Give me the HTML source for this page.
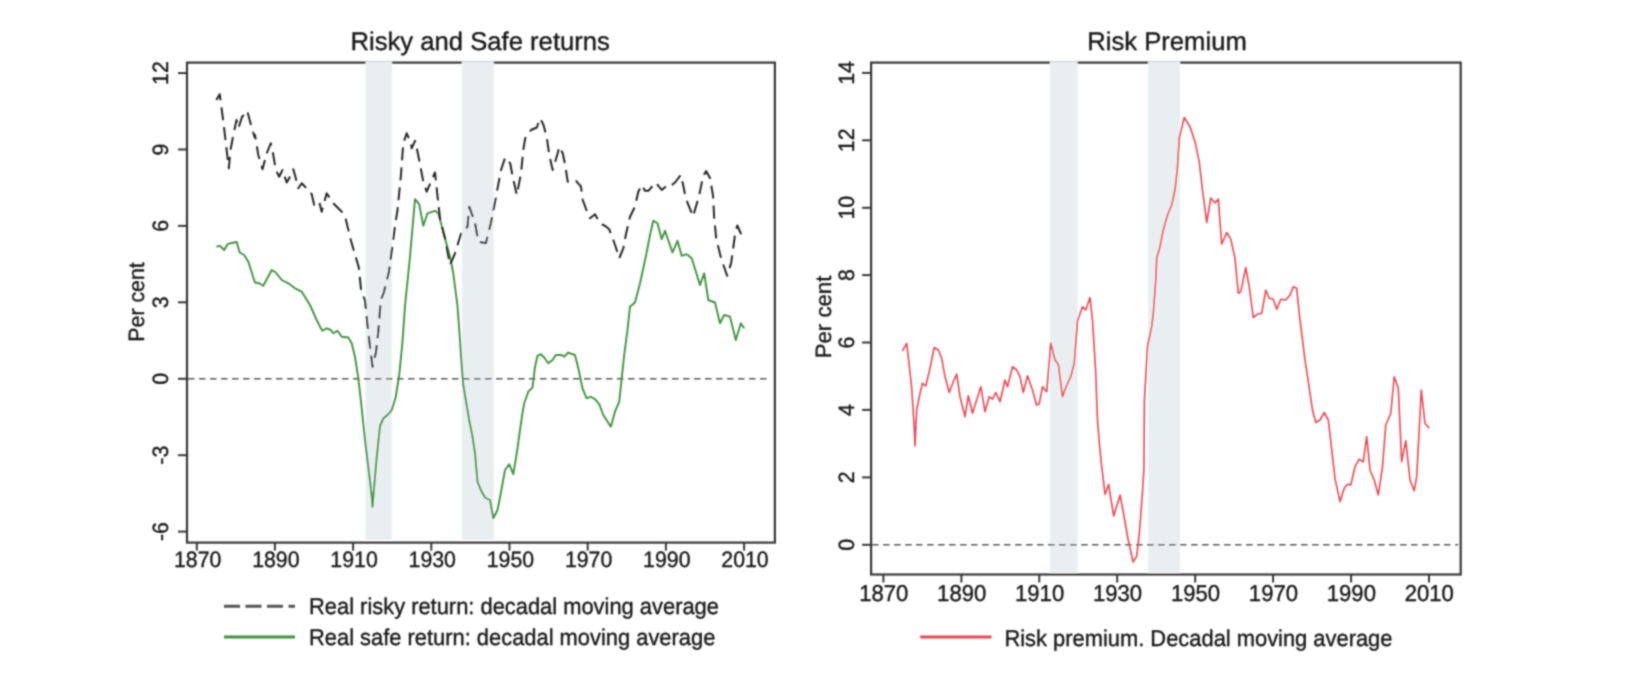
<!DOCTYPE html>
<html><head><meta charset="utf-8"><style>
html,body{margin:0;padding:0;background:#fff;width:1636px;height:696px;overflow:hidden}
svg{display:block}
</style></head><body>
<svg width="1636" height="696" viewBox="0 0 1636 696">
<defs><filter id="bl" x="0" y="0" width="1636" height="696" filterUnits="userSpaceOnUse"><feConvolveMatrix order="5" kernelMatrix="0.00009 0.00198 0.00548 0.00198 0.00009 0.00198 0.04220 0.11707 0.04220 0.00198 0.00548 0.11707 0.32480 0.11707 0.00548 0.00198 0.04220 0.11707 0.04220 0.00198 0.00009 0.00198 0.00548 0.00198 0.00009" edgeMode="none" preserveAlpha="false"/></filter></defs>
<rect width="1636" height="696" fill="#fff"/>
<g filter="url(#bl)">
<rect x="187.0" y="62.6" width="587.9" height="480.0" fill="none" stroke="#383838" stroke-width="2.2"/>
<rect x="871.1" y="62.6" width="589.6" height="511.9" fill="none" stroke="#383838" stroke-width="2.2"/>
<rect x="365.5" y="61.4" width="26.4" height="478.4" fill="#e9eff1"/>
<rect x="461.8" y="61.4" width="32.0" height="478.4" fill="#e9eff1"/>
<rect x="1050.0" y="61.4" width="27.6" height="511.2" fill="#e9eff1"/>
<rect x="1148.1" y="61.4" width="31.9" height="511.2" fill="#e9eff1"/>
<line x1="188.0" y1="378.75" x2="770.9" y2="378.75" stroke="#5a5a5a" stroke-width="1.4" stroke-dasharray="6.5 4.5"/>
<line x1="872.1" y1="544.75" x2="1458.2" y2="544.75" stroke="#5a5a5a" stroke-width="1.4" stroke-dasharray="6.5 4.5"/>
<line x1="178.0" y1="531.6" x2="187.0" y2="531.6" stroke="#383838" stroke-width="2"/>
<text x="0" y="0" transform="translate(168.40 531.57) rotate(-90) scale(0.9600 1)" text-anchor="middle" font-family="Liberation Sans, sans-serif" text-rendering="geometricPrecision" font-size="22.2" fill="#161616" stroke="#161616" stroke-width="0.35">-6</text>
<line x1="178.0" y1="455.2" x2="187.0" y2="455.2" stroke="#383838" stroke-width="2"/>
<text x="0" y="0" transform="translate(168.40 455.16) rotate(-90) scale(0.9600 1)" text-anchor="middle" font-family="Liberation Sans, sans-serif" text-rendering="geometricPrecision" font-size="22.2" fill="#161616" stroke="#161616" stroke-width="0.35">-3</text>
<line x1="178.0" y1="378.8" x2="187.0" y2="378.8" stroke="#383838" stroke-width="2"/>
<text x="0" y="0" transform="translate(168.40 378.75) rotate(-90) scale(0.9600 1)" text-anchor="middle" font-family="Liberation Sans, sans-serif" text-rendering="geometricPrecision" font-size="22.2" fill="#161616" stroke="#161616" stroke-width="0.35">0</text>
<line x1="178.0" y1="302.3" x2="187.0" y2="302.3" stroke="#383838" stroke-width="2"/>
<text x="0" y="0" transform="translate(168.40 302.34) rotate(-90) scale(0.9600 1)" text-anchor="middle" font-family="Liberation Sans, sans-serif" text-rendering="geometricPrecision" font-size="22.2" fill="#161616" stroke="#161616" stroke-width="0.35">3</text>
<line x1="178.0" y1="225.9" x2="187.0" y2="225.9" stroke="#383838" stroke-width="2"/>
<text x="0" y="0" transform="translate(168.40 225.93) rotate(-90) scale(0.9600 1)" text-anchor="middle" font-family="Liberation Sans, sans-serif" text-rendering="geometricPrecision" font-size="22.2" fill="#161616" stroke="#161616" stroke-width="0.35">6</text>
<line x1="178.0" y1="149.5" x2="187.0" y2="149.5" stroke="#383838" stroke-width="2"/>
<text x="0" y="0" transform="translate(168.40 149.52) rotate(-90) scale(0.9600 1)" text-anchor="middle" font-family="Liberation Sans, sans-serif" text-rendering="geometricPrecision" font-size="22.2" fill="#161616" stroke="#161616" stroke-width="0.35">9</text>
<line x1="178.0" y1="73.1" x2="187.0" y2="73.1" stroke="#383838" stroke-width="2"/>
<text x="0" y="0" transform="translate(168.40 73.11) rotate(-90) scale(0.9600 1)" text-anchor="middle" font-family="Liberation Sans, sans-serif" text-rendering="geometricPrecision" font-size="22.2" fill="#161616" stroke="#161616" stroke-width="0.35">12</text>
<line x1="862.1" y1="544.8" x2="871.1" y2="544.8" stroke="#383838" stroke-width="2"/>
<text x="0" y="0" transform="translate(853.70 544.75) rotate(-90) scale(0.9600 1)" text-anchor="middle" font-family="Liberation Sans, sans-serif" text-rendering="geometricPrecision" font-size="22.2" fill="#161616" stroke="#161616" stroke-width="0.35">0</text>
<line x1="862.1" y1="477.4" x2="871.1" y2="477.4" stroke="#383838" stroke-width="2"/>
<text x="0" y="0" transform="translate(853.70 477.35) rotate(-90) scale(0.9600 1)" text-anchor="middle" font-family="Liberation Sans, sans-serif" text-rendering="geometricPrecision" font-size="22.2" fill="#161616" stroke="#161616" stroke-width="0.35">2</text>
<line x1="862.1" y1="409.9" x2="871.1" y2="409.9" stroke="#383838" stroke-width="2"/>
<text x="0" y="0" transform="translate(853.70 409.95) rotate(-90) scale(0.9600 1)" text-anchor="middle" font-family="Liberation Sans, sans-serif" text-rendering="geometricPrecision" font-size="22.2" fill="#161616" stroke="#161616" stroke-width="0.35">4</text>
<line x1="862.1" y1="342.5" x2="871.1" y2="342.5" stroke="#383838" stroke-width="2"/>
<text x="0" y="0" transform="translate(853.70 342.55) rotate(-90) scale(0.9600 1)" text-anchor="middle" font-family="Liberation Sans, sans-serif" text-rendering="geometricPrecision" font-size="22.2" fill="#161616" stroke="#161616" stroke-width="0.35">6</text>
<line x1="862.1" y1="275.1" x2="871.1" y2="275.1" stroke="#383838" stroke-width="2"/>
<text x="0" y="0" transform="translate(853.70 275.15) rotate(-90) scale(0.9600 1)" text-anchor="middle" font-family="Liberation Sans, sans-serif" text-rendering="geometricPrecision" font-size="22.2" fill="#161616" stroke="#161616" stroke-width="0.35">8</text>
<line x1="862.1" y1="207.8" x2="871.1" y2="207.8" stroke="#383838" stroke-width="2"/>
<text x="0" y="0" transform="translate(853.70 207.75) rotate(-90) scale(0.9600 1)" text-anchor="middle" font-family="Liberation Sans, sans-serif" text-rendering="geometricPrecision" font-size="22.2" fill="#161616" stroke="#161616" stroke-width="0.35">10</text>
<line x1="862.1" y1="140.3" x2="871.1" y2="140.3" stroke="#383838" stroke-width="2"/>
<text x="0" y="0" transform="translate(853.70 140.35) rotate(-90) scale(0.9600 1)" text-anchor="middle" font-family="Liberation Sans, sans-serif" text-rendering="geometricPrecision" font-size="22.2" fill="#161616" stroke="#161616" stroke-width="0.35">12</text>
<line x1="862.1" y1="72.9" x2="871.1" y2="72.9" stroke="#383838" stroke-width="2"/>
<text x="0" y="0" transform="translate(853.70 72.95) rotate(-90) scale(0.9600 1)" text-anchor="middle" font-family="Liberation Sans, sans-serif" text-rendering="geometricPrecision" font-size="22.2" fill="#161616" stroke="#161616" stroke-width="0.35">14</text>
<line x1="196.8" y1="542.6" x2="196.8" y2="550.6" stroke="#383838" stroke-width="2"/>
<text x="0" y="0" transform="translate(197.66 567.10) scale(0.9600 1)" text-anchor="middle" font-family="Liberation Sans, sans-serif" text-rendering="geometricPrecision" font-size="22.2" fill="#161616" stroke="#161616" stroke-width="0.35">1870</text>
<line x1="274.9" y1="542.6" x2="274.9" y2="550.6" stroke="#383838" stroke-width="2"/>
<text x="0" y="0" transform="translate(275.85 567.10) scale(0.9600 1)" text-anchor="middle" font-family="Liberation Sans, sans-serif" text-rendering="geometricPrecision" font-size="22.2" fill="#161616" stroke="#161616" stroke-width="0.35">1890</text>
<line x1="353.1" y1="542.6" x2="353.1" y2="550.6" stroke="#383838" stroke-width="2"/>
<text x="0" y="0" transform="translate(354.04 567.10) scale(0.9600 1)" text-anchor="middle" font-family="Liberation Sans, sans-serif" text-rendering="geometricPrecision" font-size="22.2" fill="#161616" stroke="#161616" stroke-width="0.35">1910</text>
<line x1="431.3" y1="542.6" x2="431.3" y2="550.6" stroke="#383838" stroke-width="2"/>
<text x="0" y="0" transform="translate(432.22 567.10) scale(0.9600 1)" text-anchor="middle" font-family="Liberation Sans, sans-serif" text-rendering="geometricPrecision" font-size="22.2" fill="#161616" stroke="#161616" stroke-width="0.35">1930</text>
<line x1="509.5" y1="542.6" x2="509.5" y2="550.6" stroke="#383838" stroke-width="2"/>
<text x="0" y="0" transform="translate(510.41 567.10) scale(0.9600 1)" text-anchor="middle" font-family="Liberation Sans, sans-serif" text-rendering="geometricPrecision" font-size="22.2" fill="#161616" stroke="#161616" stroke-width="0.35">1950</text>
<line x1="587.7" y1="542.6" x2="587.7" y2="550.6" stroke="#383838" stroke-width="2"/>
<text x="0" y="0" transform="translate(588.60 567.10) scale(0.9600 1)" text-anchor="middle" font-family="Liberation Sans, sans-serif" text-rendering="geometricPrecision" font-size="22.2" fill="#161616" stroke="#161616" stroke-width="0.35">1970</text>
<line x1="665.9" y1="542.6" x2="665.9" y2="550.6" stroke="#383838" stroke-width="2"/>
<text x="0" y="0" transform="translate(666.79 567.10) scale(0.9600 1)" text-anchor="middle" font-family="Liberation Sans, sans-serif" text-rendering="geometricPrecision" font-size="22.2" fill="#161616" stroke="#161616" stroke-width="0.35">1990</text>
<line x1="744.1" y1="542.6" x2="744.1" y2="550.6" stroke="#383838" stroke-width="2"/>
<text x="0" y="0" transform="translate(744.98 567.10) scale(0.9600 1)" text-anchor="middle" font-family="Liberation Sans, sans-serif" text-rendering="geometricPrecision" font-size="22.2" fill="#161616" stroke="#161616" stroke-width="0.35">2010</text>
<line x1="883.4" y1="574.5" x2="883.4" y2="582.5" stroke="#383838" stroke-width="2"/>
<text x="0" y="0" transform="translate(883.73 601.00) scale(0.9650 1)" text-anchor="middle" font-family="Liberation Sans, sans-serif" text-rendering="geometricPrecision" font-size="22.9" fill="#161616" stroke="#161616" stroke-width="0.35">1870</text>
<line x1="961.4" y1="574.5" x2="961.4" y2="582.5" stroke="#383838" stroke-width="2"/>
<text x="0" y="0" transform="translate(961.67 601.00) scale(0.9650 1)" text-anchor="middle" font-family="Liberation Sans, sans-serif" text-rendering="geometricPrecision" font-size="22.9" fill="#161616" stroke="#161616" stroke-width="0.35">1890</text>
<line x1="1039.3" y1="574.5" x2="1039.3" y2="582.5" stroke="#383838" stroke-width="2"/>
<text x="0" y="0" transform="translate(1039.61 601.00) scale(0.9650 1)" text-anchor="middle" font-family="Liberation Sans, sans-serif" text-rendering="geometricPrecision" font-size="22.9" fill="#161616" stroke="#161616" stroke-width="0.35">1910</text>
<line x1="1117.2" y1="574.5" x2="1117.2" y2="582.5" stroke="#383838" stroke-width="2"/>
<text x="0" y="0" transform="translate(1117.55 601.00) scale(0.9650 1)" text-anchor="middle" font-family="Liberation Sans, sans-serif" text-rendering="geometricPrecision" font-size="22.9" fill="#161616" stroke="#161616" stroke-width="0.35">1930</text>
<line x1="1195.2" y1="574.5" x2="1195.2" y2="582.5" stroke="#383838" stroke-width="2"/>
<text x="0" y="0" transform="translate(1195.49 601.00) scale(0.9650 1)" text-anchor="middle" font-family="Liberation Sans, sans-serif" text-rendering="geometricPrecision" font-size="22.9" fill="#161616" stroke="#161616" stroke-width="0.35">1950</text>
<line x1="1273.1" y1="574.5" x2="1273.1" y2="582.5" stroke="#383838" stroke-width="2"/>
<text x="0" y="0" transform="translate(1273.43 601.00) scale(0.9650 1)" text-anchor="middle" font-family="Liberation Sans, sans-serif" text-rendering="geometricPrecision" font-size="22.9" fill="#161616" stroke="#161616" stroke-width="0.35">1970</text>
<line x1="1351.1" y1="574.5" x2="1351.1" y2="582.5" stroke="#383838" stroke-width="2"/>
<text x="0" y="0" transform="translate(1351.37 601.00) scale(0.9650 1)" text-anchor="middle" font-family="Liberation Sans, sans-serif" text-rendering="geometricPrecision" font-size="22.9" fill="#161616" stroke="#161616" stroke-width="0.35">1990</text>
<line x1="1429.0" y1="574.5" x2="1429.0" y2="582.5" stroke="#383838" stroke-width="2"/>
<text x="0" y="0" transform="translate(1429.31 601.00) scale(0.9650 1)" text-anchor="middle" font-family="Liberation Sans, sans-serif" text-rendering="geometricPrecision" font-size="22.9" fill="#161616" stroke="#161616" stroke-width="0.35">2010</text>
<text x="0" y="0" transform="translate(143.70 302.00) rotate(-90) scale(0.9600 1)" text-anchor="middle" font-family="Liberation Sans, sans-serif" text-rendering="geometricPrecision" font-size="22.2" fill="#161616" stroke="#161616" stroke-width="0.35">Per cent</text>
<text x="0" y="0" transform="translate(830.60 317.00) rotate(-90)" text-anchor="middle" font-family="Liberation Sans, sans-serif" text-rendering="geometricPrecision" font-size="22.2" fill="#161616" stroke="#161616" stroke-width="0.35">Per cent</text>
<text x="0" y="0" transform="translate(480.20 49.50)" text-anchor="middle" font-family="Liberation Sans, sans-serif" text-rendering="geometricPrecision" font-size="25.65" fill="#161616" stroke="#161616" stroke-width="0.35">Risky and Safe returns</text>
<text x="0" y="0" transform="translate(1167.00 49.50)" text-anchor="middle" font-family="Liberation Sans, sans-serif" text-rendering="geometricPrecision" font-size="25.65" fill="#161616" stroke="#161616" stroke-width="0.35">Risk Premium</text>
<polyline points="216.3,246.7 220.0,245.8 224.2,250.0 227.5,244.2 231.7,243.0 236.7,242.0 239.7,252.5 244.2,255.0 248.3,261.7 255.0,282.5 259.2,283.3 263.3,285.8 271.7,270.0 275.8,272.5 281.7,280.0 288.3,283.3 295.0,288.3 301.7,291.7 310.0,305.0 316.7,320.0 320.0,326.7 322.5,330.8 326.7,328.3 330.8,330.0 333.3,333.3 337.5,330.8 341.7,336.7 348.3,337.5 351.7,343.3 355.0,356.7 358.3,378.3 360.8,400.0 362.5,416.0 365.0,439.3 369.2,474.3 371.7,496.0 372.5,506.8 374.2,486.0 376.7,457.7 380.0,426.0 383.3,418.5 388.0,414.5 391.7,410.0 395.8,396.7 399.2,375.0 402.5,341.7 405.0,306.0 410.0,256.7 415.0,199.2 419.2,204.2 423.3,225.8 427.5,213.3 435.0,210.8 438.3,213.3 445.0,238.3 450.0,256.7 453.3,273.3 457.5,306.0 460.0,340.0 461.7,365.0 463.3,385.0 467.5,410.0 469.2,420.0 472.5,436.7 475.0,453.3 477.5,481.7 480.8,490.0 485.0,497.5 490.0,500.0 493.3,518.3 497.5,510.0 500.8,493.3 505.0,470.0 509.2,464.2 513.3,474.2 517.5,448.3 520.0,430.0 522.5,413.0 524.2,403.3 528.3,391.7 532.5,387.5 535.0,366.7 537.5,355.8 540.8,354.2 544.2,357.5 548.3,363.3 552.5,360.0 555.8,355.0 561.7,355.0 564.2,356.7 568.3,352.5 570.0,353.3 575.0,355.0 578.3,368.3 582.5,388.3 586.7,398.3 590.8,396.7 595.0,399.2 599.2,404.2 603.3,415.0 610.8,426.7 615.0,411.7 619.2,401.7 621.7,378.3 624.2,355.0 627.5,330.0 630.0,306.7 635.0,302.5 640.0,283.3 645.8,256.7 650.0,235.0 653.3,220.8 657.5,223.3 661.7,239.2 665.0,230.8 672.5,252.5 677.5,240.8 681.7,255.8 686.7,254.2 691.7,258.3 700.0,285.0 704.2,273.3 708.3,300.0 715.0,302.5 720.0,323.3 724.2,315.0 730.0,316.7 735.8,340.0 740.8,323.3 744.2,328.3" fill="none" stroke="#3f933f" stroke-width="1.9" stroke-linejoin="round"/>
<polyline points="216.3,100.0 219.7,94.2 223.0,119.0 225.5,140.0 228.8,168.3 230.5,150.0 233.0,136.7 236.5,120.0 238.5,128.0 242.0,117.0 247.2,110.8 251.0,125.0 254.7,137.5 255.0,135.0 258.3,155.0 262.5,169.2 266.7,153.3 270.8,143.3 273.3,155.0 275.8,170.0 279.2,176.7 282.5,170.0 286.7,182.5 289.2,178.3 293.3,169.2 295.8,178.3 298.3,188.3 301.7,183.3 308.3,190.0 311.7,194.2 314.2,205.0 319.2,201.7 321.7,211.7 326.7,193.3 333.3,203.3 338.3,208.3 341.7,211.7 345.8,219.2 350.8,240.0 358.8,267.5 361.2,291.2 365.0,300.0 367.5,325.0 370.0,346.7 372.5,366.7 375.8,353.3 378.3,331.7 380.8,300.0 383.8,292.5 388.8,272.5 395.0,226.0 397.5,210.0 400.8,176.7 403.3,143.3 406.7,133.3 410.8,142.5 411.7,148.3 415.0,140.8 417.5,151.7 419.2,160.0 423.3,181.7 426.7,191.7 431.7,180.0 435.0,172.5 438.3,203.3 440.0,218.3 445.0,238.3 450.0,265.0 455.0,253.3 461.7,231.7 465.0,230.0 467.5,226.7 469.2,206.7 475.0,222.5 478.3,241.7 485.8,243.3 490.8,223.3 496.0,196.7 501.0,170.0 505.2,157.5 510.2,163.3 512.7,176.7 516.8,195.0 521.0,173.3 523.5,148.3 525.2,138.3 531.0,130.0 536.8,127.5 540.2,118.3 543.5,125.0 546.8,137.5 549.3,155.0 552.7,170.0 557.7,153.3 559.3,146.7 562.7,153.3 565.2,165.0 567.7,181.7 576.0,180.8 581.0,186.7 582.7,200.0 586.8,210.8 590.0,218.3 595.0,214.2 600.0,223.3 605.0,225.8 609.2,229.2 613.3,240.0 616.7,250.0 619.2,258.3 623.3,248.3 625.8,235.0 630.0,216.7 635.0,206.7 638.3,191.7 641.7,185.0 645.0,190.8 648.3,190.8 655.8,182.5 661.7,190.0 666.7,185.8 670.0,186.7 675.0,182.5 680.8,175.0 683.3,185.8 685.8,198.3 693.0,216.4 699.0,196.3 703.1,176.2 706.1,171.1 710.1,178.2 713.1,196.3 714.1,216.4 716.2,238.5 721.2,258.7 727.2,275.8 731.2,262.7 735.3,232.5 737.3,225.5 741.3,234.5" fill="none" stroke="#282828" stroke-width="2.0" stroke-dasharray="13 7" stroke-linejoin="round"/>
<polyline points="902.5,350.8 906.7,343.3 909.2,365.0 911.7,388.3 914.2,426.7 915.0,446.0 916.7,410.0 920.0,393.3 922.5,383.3 925.8,385.8 930.0,368.3 934.2,347.5 938.3,350.0 941.7,358.3 945.0,376.7 949.2,392.5 953.3,381.7 956.7,374.2 960.0,396.7 965.0,416.7 968.3,395.8 972.5,413.3 980.8,386.7 985.0,411.7 989.2,396.7 992.5,399.2 995.8,392.5 1000.0,401.7 1005.0,380.0 1007.5,386.7 1012.5,366.7 1016.7,370.0 1020.0,376.7 1023.3,392.5 1027.5,375.8 1032.5,390.0 1036.5,405.0 1039.2,404.0 1042.5,386.7 1046.7,391.7 1050.8,343.3 1055.0,360.0 1058.3,364.2 1062.5,396.7 1066.7,385.0 1070.8,376.7 1074.2,363.3 1077.5,320.8 1082.5,306.7 1085.8,310.0 1090.0,297.5 1092.5,320.0 1095.8,373.3 1096.7,400.0 1097.5,420.0 1099.2,441.7 1101.7,466.7 1105.1,494.4 1108.6,484.4 1113.7,516.0 1120.1,495.1 1123.7,514.5 1128.0,539.0 1133.1,562.0 1136.7,556.2 1139.5,531.8 1142.4,493.0 1143.9,470.0 1144.4,400.0 1147.5,346.7 1151.7,326.7 1153.3,313.3 1155.8,280.0 1156.7,258.3 1160.0,246.7 1163.3,230.0 1167.5,215.0 1171.7,205.0 1175.0,190.0 1177.5,166.7 1179.2,138.3 1184.2,117.5 1190.0,126.7 1195.0,141.7 1199.2,161.7 1202.5,190.0 1206.7,222.5 1210.8,198.0 1215.0,203.0 1218.3,199.0 1221.7,244.2 1226.7,232.5 1230.8,239.2 1235.0,258.3 1238.3,293.3 1240.8,291.7 1245.8,267.5 1249.2,286.7 1253.3,317.5 1257.5,314.2 1261.7,313.3 1265.8,290.0 1269.2,298.3 1273.3,299.2 1276.7,309.2 1280.8,299.2 1285.8,300.0 1290.0,295.0 1293.3,286.7 1296.7,288.3 1299.2,313.3 1301.7,333.3 1305.0,360.0 1308.3,381.7 1312.5,410.0 1315.8,422.5 1320.0,420.0 1324.2,412.5 1328.3,420.0 1330.8,441.7 1335.0,478.3 1340.0,501.7 1344.2,488.3 1347.5,484.2 1350.8,485.0 1355.0,466.7 1359.2,459.2 1363.3,461.7 1366.7,436.7 1370.0,470.0 1374.2,480.0 1378.3,495.0 1382.5,466.7 1385.8,425.0 1390.8,413.3 1394.2,376.7 1398.3,388.3 1400.0,425.0 1401.7,461.7 1405.8,440.8 1410.0,480.0 1414.2,490.8 1416.7,476.7 1421.3,390.0 1425.0,423.3 1429.2,428.3" fill="none" stroke="#ec4650" stroke-width="1.6" stroke-linejoin="round"/>
<line x1="224" y1="606.3" x2="295" y2="606.3" stroke="#555" stroke-width="3" stroke-dasharray="16 5.5"/>
<line x1="224" y1="637" x2="295" y2="637" stroke="#3f933f" stroke-width="3"/>
<line x1="920.2" y1="637.1" x2="991.5" y2="637.1" stroke="#ec4650" stroke-width="3"/>
<text x="0" y="0" transform="translate(309.00 613.50) scale(0.9600 1)" text-anchor="start" font-family="Liberation Sans, sans-serif" text-rendering="geometricPrecision" font-size="22.8" fill="#161616" stroke="#161616" stroke-width="0.35">Real risky return: decadal moving average</text>
<text x="0" y="0" transform="translate(309.00 645.30) scale(0.9600 1)" text-anchor="start" font-family="Liberation Sans, sans-serif" text-rendering="geometricPrecision" font-size="22.8" fill="#161616" stroke="#161616" stroke-width="0.35">Real safe return: decadal moving average</text>
<text x="0" y="0" transform="translate(1004.45 645.50) scale(0.9600 1)" text-anchor="start" font-family="Liberation Sans, sans-serif" text-rendering="geometricPrecision" font-size="22.8" fill="#161616" stroke="#161616" stroke-width="0.35">Risk premium. Decadal moving average</text>
</g>
</svg>
</body></html>
